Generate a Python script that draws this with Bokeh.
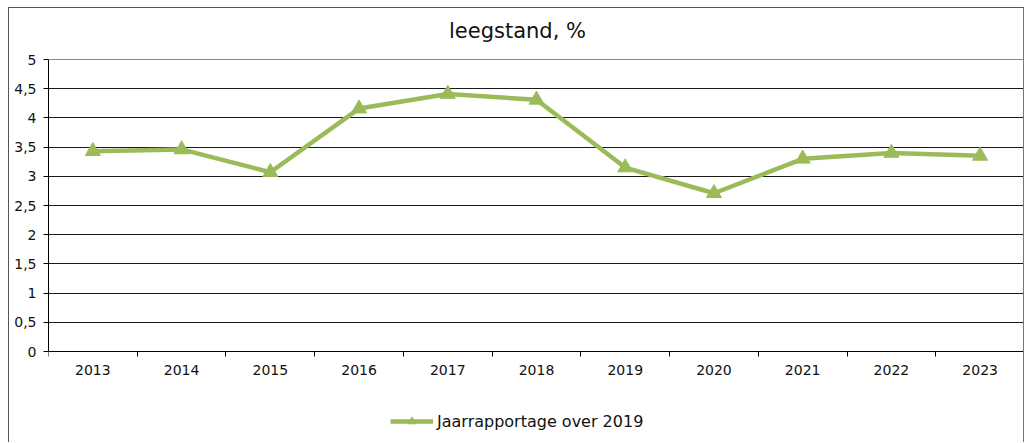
from bokeh.plotting import figure
from bokeh.models import Range1d, FixedTicker, CustomJSTickFormatter, Legend, LegendItem, Grid, Label
from bokeh.embed import file_html
from bokeh.resources import INLINE

# Data
years = ["2013", "2014", "2015", "2016", "2017", "2018", "2019", "2020", "2021", "2022", "2023"]
leegstand = [3.43, 3.46, 3.07, 4.16, 4.41, 4.31, 3.15, 2.71, 3.30, 3.40, 3.35]
y_ticks = [0, 0.5, 1, 1.5, 2, 2.5, 3, 3.5, 4, 4.5, 5]
title_text = "leegstand, %"
series_name = "Jaarrapportage over 2019"

GREEN = "#9BBB59"
FONT = "DejaVu Sans"

n = len(years)
xs = [i + 0.5 for i in range(n)]

# layout: value axis 0..5 spans 292px; the frame continues 51px above 5 (title)
# and 92px below 0 (legend)
Y_MAX = 5
PX_PER_UNIT = 292 / Y_MAX
Y_TOP = Y_MAX + 51 / PX_PER_UNIT
Y_BOTTOM = -92 / PX_PER_UNIT

p = figure(width=1016, height=435, x_range=Range1d(0, n), y_range=Range1d(Y_BOTTOM, Y_TOP),
           output_backend="svg", toolbar_location=None,
           min_border_left=39, min_border_right=1, min_border_top=0, min_border_bottom=0)

p.styles = {"margin-left": "8px", "margin-top": "7px",
            "border-left": "1px solid #555", "border-top": "1px solid #555",
            "border-right": "1px solid #777"}
p.background_fill_color = "white"
p.border_fill_color = "white"
p.outline_line_color = None

# Title (as a label at the top of the chart area)
title = Label(x=469, y=413, x_units="screen", y_units="screen", text=title_text,
              text_align="center", text_baseline="alphabetic",
              text_font=FONT, text_font_size="21px", text_color="#111111")
p.add_layout(title)

# Grid
p.xgrid.grid_line_color = None
p.ygrid.grid_line_color = "#1a1a1a"
p.ygrid.grid_line_width = 1
p.ygrid.ticker = FixedTicker(ticks=y_ticks[1:-1])
top_grid = Grid(dimension=1, ticker=FixedTicker(ticks=[y_ticks[-1]]),
                grid_line_color="#8a8a8a", grid_line_width=1)
p.add_layout(top_grid)

# Y axis
p.yaxis.ticker = FixedTicker(ticks=y_ticks)
p.yaxis.bounds = (y_ticks[0], y_ticks[-1])
p.yaxis.formatter = CustomJSTickFormatter(code="return String(tick).replace('.', ',');")
p.yaxis.major_tick_out = 5
p.yaxis.major_tick_in = 0
p.yaxis.minor_tick_line_color = None
p.yaxis.major_label_standoff = 7
p.yaxis.major_label_text_font = FONT
p.yaxis.major_label_text_font_size = "14px"
p.yaxis.major_label_text_color = "#111111"
p.yaxis.axis_line_color = "black"
p.yaxis.major_tick_line_color = "black"

# X axis (drawn at value 0)
p.xaxis.fixed_location = 0
p.xaxis.ticker = FixedTicker(ticks=xs, minor_ticks=list(range(n + 1)))
p.xaxis.major_label_overrides = {x: y for x, y in zip(xs, years)}
p.xaxis.major_tick_line_color = None
p.xaxis.major_tick_out = 0
p.xaxis.major_tick_in = 0
p.xaxis.minor_tick_line_color = "black"
p.xaxis.minor_tick_out = 5
p.xaxis.minor_tick_in = 0
p.xaxis.major_label_standoff = 8
p.xaxis.major_label_text_font = FONT
p.xaxis.major_label_text_font_size = "14px"
p.xaxis.major_label_text_color = "#111111"
p.xaxis.axis_line_color = "black"

# Series
ln = p.line(xs, leegstand, line_color=GREEN, line_width=4.5, line_join="round")
sc = p.scatter(xs, leegstand, marker="triangle", size=15, fill_color=GREEN, line_color=GREEN)

legend = Legend(items=[LegendItem(label=series_name, renderers=[ln, sc])],
                location=(342, 12), orientation="horizontal",
                glyph_width=43, glyph_height=20, label_standoff=4,
                padding=0, margin=0, spacing=0,
                border_line_alpha=0, background_fill_alpha=0,
                label_text_font=FONT, label_text_font_size="16px",
                label_text_color="#111111")
p.add_layout(legend, "center")

open("out.html", "w").write(file_html(p, INLINE))
